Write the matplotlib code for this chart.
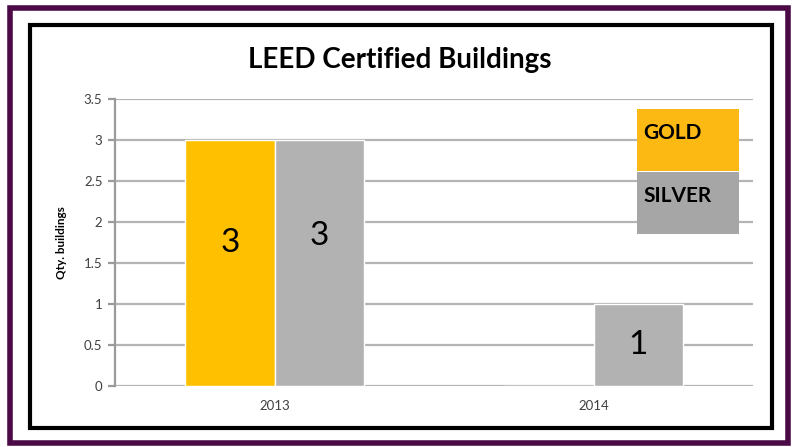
import matplotlib.pyplot as plt
import matplotlib.patches as patches
import numpy as np

plt.rcParams['font.family'] = ['Lato', 'DejaVu Sans']

years = ['2013', '2014']
gold = [3, 0]
silver = [3, 1]

gold_color = '#FFC000'
silver_color = '#B2B2B2'

fig = plt.figure(figsize=(7.96, 4.47), dpi=100)

# outer purple frame and inner black frame
fig.patches.append(patches.Rectangle(
    (10/796, 1 - 443/447), 778/796, 435/447,
    transform=fig.transFigure, fill=False, edgecolor='#4B0A46', linewidth=4))
fig.patches.append(patches.Rectangle(
    (30/796, 1 - 428/447), 742/796, 403/447,
    transform=fig.transFigure, fill=False, edgecolor='black', linewidth=3))

ax = fig.add_axes([115/796, 1 - 386/447, 638/796, 287/447])

x = np.arange(len(years))
width = 0.28

b1 = ax.bar(x - width/2, gold, width, color=gold_color, edgecolor='white', linewidth=1, zorder=3)
b2 = ax.bar(x + width/2, silver, width, color=silver_color, edgecolor='white', linewidth=1, zorder=3)

# labels sit a bit above the middle on the tall bars
for bars, vals, lift in [(b1, gold, 0.24), (b2, silver, 0.33)]:
    for rect, v in zip(bars, vals):
        if v > 0:
            y = v/2 + (lift if v > 2 else 0)
            ax.text(rect.get_x() + rect.get_width()/2, y, str(v),
                    ha='center', va='center', fontsize=24, zorder=4)

ax.set_xlim(-0.5, 1.5)
ax.set_ylim(0, 3.5)
ax.set_yticks(np.arange(0, 3.51, 0.5))
ax.set_yticklabels(['0', '0.5', '1', '1.5', '2', '2.5', '3', '3.5'])
ax.set_xticks(x)
ax.set_xticklabels(years)

ax.grid(axis='y', color='#B4B4B4', linewidth=1.6, zorder=0)
for s in ['top', 'right', 'bottom']:
    ax.spines[s].set_visible(False)
ax.spines['left'].set_color('#9A9A9A')
ax.spines['left'].set_linewidth(1.6)
ax.tick_params(axis='y', length=5, width=1.6, color='#9A9A9A', labelsize=9.5, labelcolor='#404040', pad=4)
ax.tick_params(axis='x', length=0, labelsize=9.5, labelcolor='#404040', pad=10)

ax.set_ylabel('Qty. buildings', fontsize=8.5, fontweight='bold', labelpad=12)

fig.text(400/796, 1 - 60/447, 'LEED Certified Buildings', ha='center', va='center',
         fontsize=20, fontweight='bold')

# legend boxes
for y0, col, name in [(109, '#FDB913', 'GOLD'), (172, '#A6A6A6', 'SILVER')]:
    fig.patches.append(patches.Rectangle(
        (637/796, 1 - (y0 + 62)/447), 102/796, 62/447,
        transform=fig.transFigure, facecolor=col, edgecolor='none'))
    fig.text(643/796, 1 - (y0 + 24)/447, name, ha='left', va='center',
             fontsize=15, fontweight='bold')

plt.savefig('out.png', dpi=100)
